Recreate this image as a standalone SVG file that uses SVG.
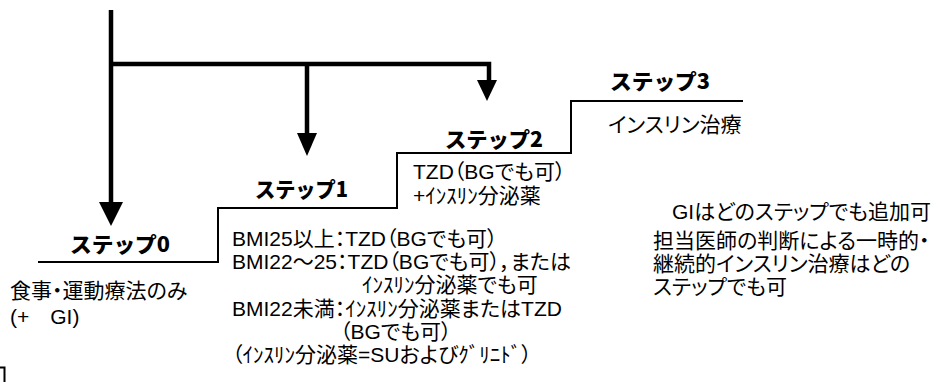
<svg xmlns="http://www.w3.org/2000/svg" width="939" height="382" viewBox="0 0 939 382">
<style>
.bg{fill:#fff}
.t{font-family:"Liberation Sans","Noto Sans CJK JP",sans-serif;font-size:21px;fill:#000;font-feature-settings:"palt"}
.s{font-family:"Noto Sans CJK JP",sans-serif;font-weight:900;font-size:21px;fill:#000}
.stair{fill:none;stroke:#000;stroke-width:2}
.flow{fill:none;stroke:#000;stroke-width:4.5}
.head{fill:#000}
</style>
<rect class="bg" x="0" y="0" width="939" height="382"/>
<g id="connectors">
  <path class="flow" d="M111,10 V205 M109,64 H489 V82 M307,64 V135"/>
  <polygon class="head" points="99,202 123,202 111,226"/>
  <polygon class="head" points="297,133 317,133 307,156"/>
  <polygon class="head" points="477,80 497,80 487,101"/>
</g>
<g id="stairs">
  <path class="stair" d="M38,262 H218 V208 H397 V153 H571 V101 H743"/>
  <path class="stair" stroke-width="1.5" d="M0,367.5 H4.5 V382"/>
</g>
<g id="step0">
  <text class="s" x="70" y="252" textLength="100" lengthAdjust="spacingAndGlyphs">ステップ0</text>
  <text class="t" x="10" y="298">食事・運動療法のみ</text>
  <text class="t" x="10" y="324">(+　GI)</text>
</g>
<g id="step1">
  <text class="s" x="255" y="197" textLength="93" lengthAdjust="spacingAndGlyphs">ステップ1</text>
  <text class="t" x="232" y="246">BMI25以上：TZD（BGでも可）</text>
  <text class="t" x="232" y="269">BMI22～25：TZD（BGでも可），または</text>
  <text class="t" x="362" y="292">ｲﾝｽﾘﾝ分泌薬でも可</text>
  <text class="t" x="232" y="316">BMI22未満：ｲﾝｽﾘﾝ分泌薬またはTZD</text>
  <text class="t" x="340" y="339">（BGでも可）</text>
  <text class="t" x="232" y="362">（ｲﾝｽﾘﾝ分泌薬=SUおよびｸﾞﾘﾆﾄﾞ）</text>
</g>
<g id="step2">
  <text class="s" x="445" y="147" textLength="98" lengthAdjust="spacingAndGlyphs">ステップ2</text>
  <text class="t" x="413" y="179">TZD（BGでも可）</text>
  <text class="t" x="413" y="203">+ｲﾝｽﾘﾝ分泌薬</text>
</g>
<g id="step3">
  <text class="s" x="610" y="89" textLength="100" lengthAdjust="spacingAndGlyphs">ステップ3</text>
  <text class="t" x="608" y="132">インスリン治療</text>
</g>
<g id="notes">
  <text class="t" x="672" y="219">GIはどのステップでも追加可</text>
  <text class="t" x="653" y="248">担当医師の判断による一時的・</text>
  <text class="t" x="653" y="271">継続的インスリン治療はどの</text>
  <text class="t" x="653" y="294">ステップでも可</text>
</g>
</svg>
